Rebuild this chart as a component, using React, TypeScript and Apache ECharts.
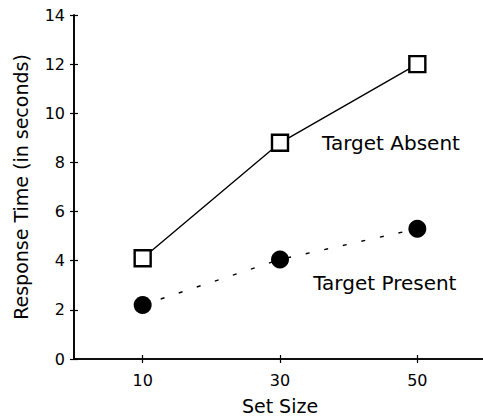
import React, { useEffect, useRef } from "react";
import * as echarts from "echarts";

const setSizes = [10, 30, 50];
const targetAbsent = [4.1, 8.8, 12.0];
const targetPresent = [2.2, 4.05, 5.3];
const xTickValues = [10, 30, 50];
const seriesNames = ["Target Absent", "Target Present"];
const labelCoords = [
  [56.2, 8.8],
  [55.7, 3.1],
];

const FONT = "DejaVu Sans";

export default function App() {
  const ref = useRef<HTMLDivElement>(null);
  useEffect(() => {
    if (!ref.current) return;
    const chart = echarts.init(ref.current, null, { renderer: "svg" });
    const axisLine = { show: true, lineStyle: { color: "#000", width: 1.6 } };
    const tick = { show: true, inside: true, length: 4, lineStyle: { color: "#000", width: 1.2 } };
    const option: any = {
      animation: false,
      backgroundColor: "#fff",
      textStyle: { fontFamily: FONT, color: "#000" },
      grid: { left: 74, top: 15, width: 412, bottom: 58, outerBoundsMode: "none", containLabel: false },
      xAxis: [
        {
          type: "value",
          min: 0,
          max: 60,
          interval: 10,
          position: "bottom",
          name: "Set Size",
          nameLocation: "middle",
          nameGap: 37,
          nameTextStyle: { fontFamily: FONT, fontSize: 19, color: "#000" },
          axisLine,
          axisTick: { ...tick, customValues: xTickValues },
          axisLabel: {
            customValues: xTickValues,
            fontFamily: FONT,
            fontSize: 16,
            color: "#000",
            margin: 13,
          },
          splitLine: { show: false },
        },
        {
          type: "value",
          min: 0,
          max: 60,
          interval: 10,
          position: "top",
          axisLine,
          axisTick: { ...tick, customValues: xTickValues },
          axisLabel: { show: false },
          splitLine: { show: false },
        },
      ],
      yAxis: [
        {
          type: "value",
          min: 0,
          max: 14,
          interval: 2,
          position: "left",
          name: "Response Time (in seconds)",
          nameLocation: "middle",
          nameGap: 44,
          nameTextStyle: { fontFamily: FONT, fontSize: 19, color: "#000" },
          axisLine,
          axisTick: tick,
          axisLabel: { fontFamily: FONT, fontSize: 16, color: "#000", margin: 9 },
          splitLine: { show: false },
        },
        {
          type: "value",
          min: 0,
          max: 14,
          interval: 2,
          position: "right",
          axisLine,
          axisTick: tick,
          axisLabel: { show: false },
          splitLine: { show: false },
        },
      ],
      series: [
        {
          name: seriesNames[0],
          type: "line",
          xAxisIndex: 0,
          yAxisIndex: 0,
          data: setSizes.map((x, i) => [x, targetAbsent[i]]),
          symbol: "rect",
          symbolSize: 16,
          lineStyle: { color: "#000", width: 1.4, type: "solid" },
          itemStyle: { color: "#fff", borderColor: "#000", borderWidth: 2.4 },
          z: 3,
          markPoint: {
            symbol: "circle",
            symbolSize: 0,
            data: [{ coord: labelCoords[0], value: seriesNames[0] }],
            label: {
              show: true,
              position: "left",
              distance: 0,
              formatter: seriesNames[0],
              fontFamily: FONT,
              fontSize: 20,
              color: "#000",
            },
          },
        },
        {
          name: seriesNames[1],
          type: "line",
          xAxisIndex: 0,
          yAxisIndex: 0,
          data: setSizes.map((x, i) => [x, targetPresent[i]]),
          symbol: "circle",
          symbolSize: 18,
          lineStyle: { color: "#000", width: 1.4, type: [4, 15] },
          itemStyle: { color: "#000", borderColor: "#000", borderWidth: 0 },
          z: 3,
          markPoint: {
            symbol: "circle",
            symbolSize: 0,
            data: [{ coord: labelCoords[1], value: seriesNames[1] }],
            label: {
              show: true,
              position: "left",
              distance: 0,
              formatter: seriesNames[1],
              fontFamily: FONT,
              fontSize: 20,
              color: "#000",
            },
          },
        },
      ],
    };
    chart.setOption(option);
    return () => chart.dispose();
  }, []);
  return (
    <div
      ref={ref}
      style={{ position: "fixed", left: 0, top: 0, width: 483, height: 417, background: "#fff" }}
    />
  );
}
